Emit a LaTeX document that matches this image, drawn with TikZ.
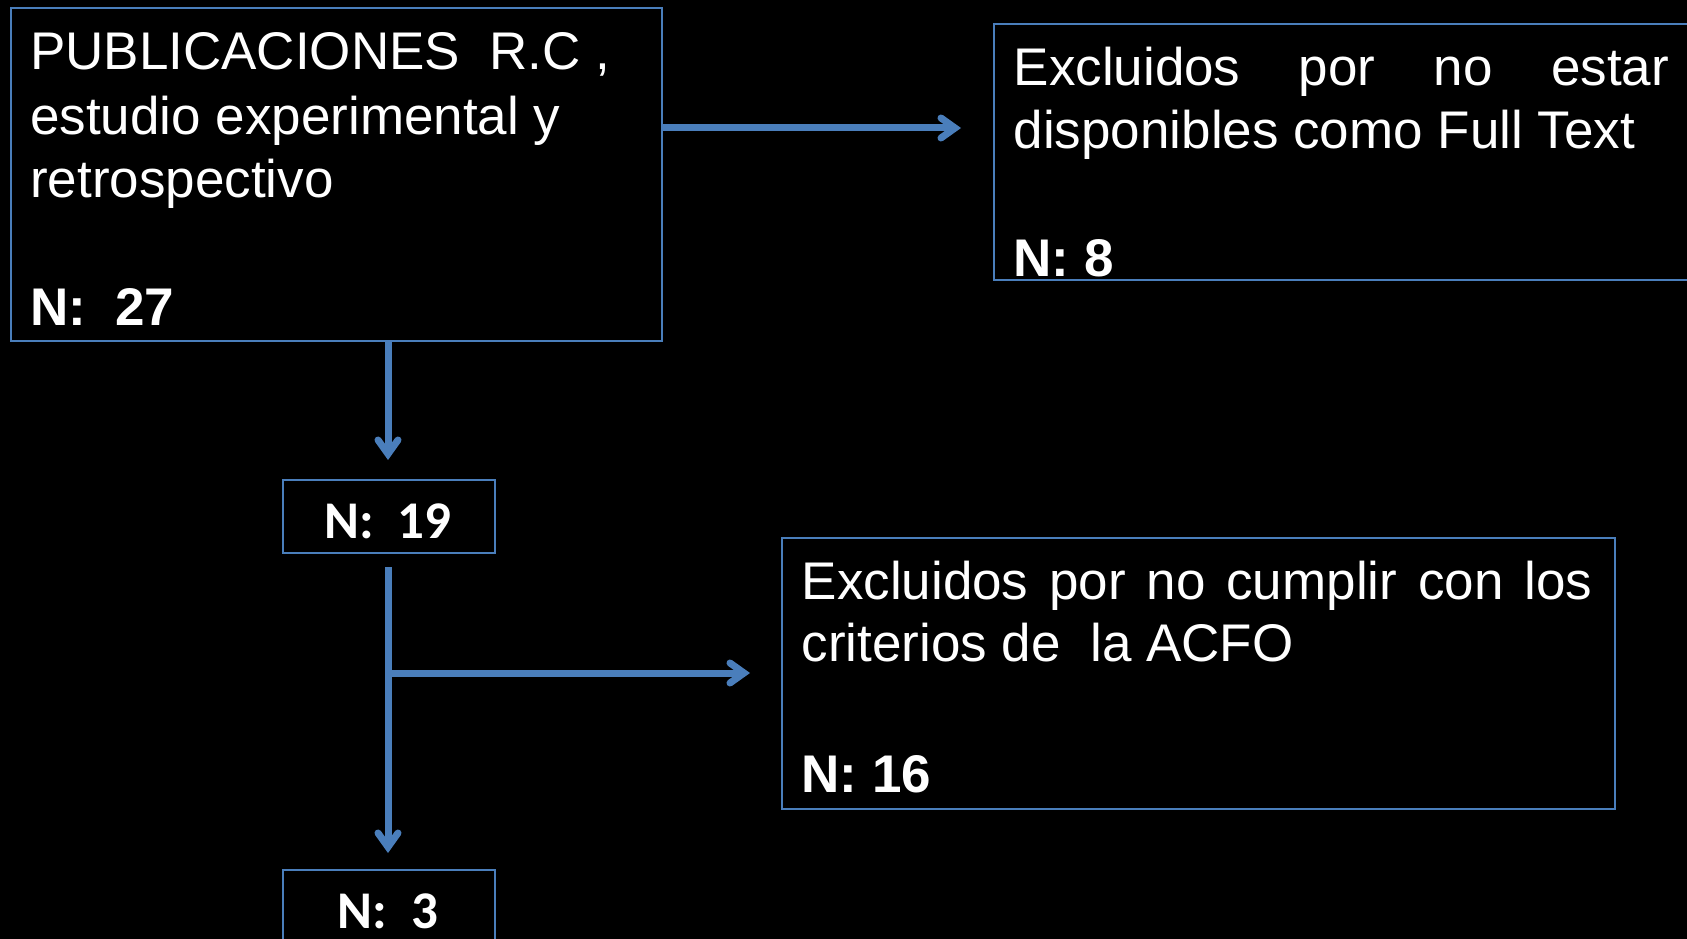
\documentclass[tikz,border=0pt]{standalone}
\usepackage{fontspec}
\setmainfont{Liberation Sans}
\newfontfamily\calibrifont{Carlito}
\usetikzlibrary{arrows.meta}
\definecolor{boxblue}{RGB}{74,126,187}
\begin{document}
\begin{tikzpicture}[x=1pt,y=-1pt,
  box/.style={draw=boxblue, line width=2pt, inner sep=0pt, anchor=north west},
  txt/.style={text=white, font=\fontsize{53}{63.6}\selectfont, anchor=base west, inner sep=0pt},
  ntxt/.style={text=white, font=\fontsize{53}{63.6}\selectfont\bfseries, anchor=base west, inner sep=0pt},
  ctxt/.style={text=white, font=\fontsize{53}{63.6}\selectfont\calibrifont\bfseries, anchor=base, inner sep=0pt},
  flow/.style={draw=boxblue, line width=7pt, -{Straight Barb[length=14pt,width=20pt,line cap=round]}}
]
\useasboundingbox (0,0) rectangle (1687,939);
\fill[black] (0,0) rectangle (1687,939);
\clip (0,0) rectangle (1687,939);

% boxes
\node[box, minimum width=651pt, minimum height=332.5pt] (b1) at (9.7,7.5) {};
\node[box, minimum width=717pt, minimum height=256pt] (b2) at (993,22.6) {};
\node[box, minimum width=212pt, minimum height=73pt] (b3) at (282,479) {};
\node[box, minimum width=833pt, minimum height=271pt] (b4) at (781,537) {};
\node[box, minimum width=212pt, minimum height=73pt] (b5) at (282,869) {};

% texts
\node[txt] (t11) at (30,70) {PUBLICACIONES\ \ R.C ,};
\node[txt] (t12) at (30,134.5) {estudio experimental y};
\node[txt] (t13) at (30,197) {retrospectivo};
\node[ntxt] (t14) at (30,325) {N:\ \ 27};

\node[txt] (t21) at (1013.5,86) {\makebox[655.5pt][s]{Excluidos por no estar}};
\node[txt] (t22) at (1013.5,148.5) {disponibles como Full Text};
\node[ntxt] (t23) at (1013.5,276.5) {N: 8};

\node[ctxt] (t3) at (388,538) {N:\ \ 19};

\node[txt] (t41) at (801.5,599) {\makebox[790.5pt][s]{Excluidos por no cumplir con los}};
\node[txt] (t42) at (801.5,661.7) {criterios de\ \ la ACFO};
\node[ntxt] (t43) at (801.5,792) {N: 16};

\node[ctxt] (t5) at (388,928.5) {N:\ \ 3};

% connectors
\coordinate (e1) at (961,128);
\draw[flow] (b1.east |- e1) -- (e1);
\coordinate (e2) at (388,460);
\draw[flow] (e2 |- b1.south) -- (e2);
\coordinate (s3) at (388,567);
\coordinate (e3) at (388,853);
\draw[flow] (s3) -- (e3);
\coordinate (e4) at (750,673);
\draw[flow] (s3 |- e4) -- (e4);
\end{tikzpicture}
\end{document}
